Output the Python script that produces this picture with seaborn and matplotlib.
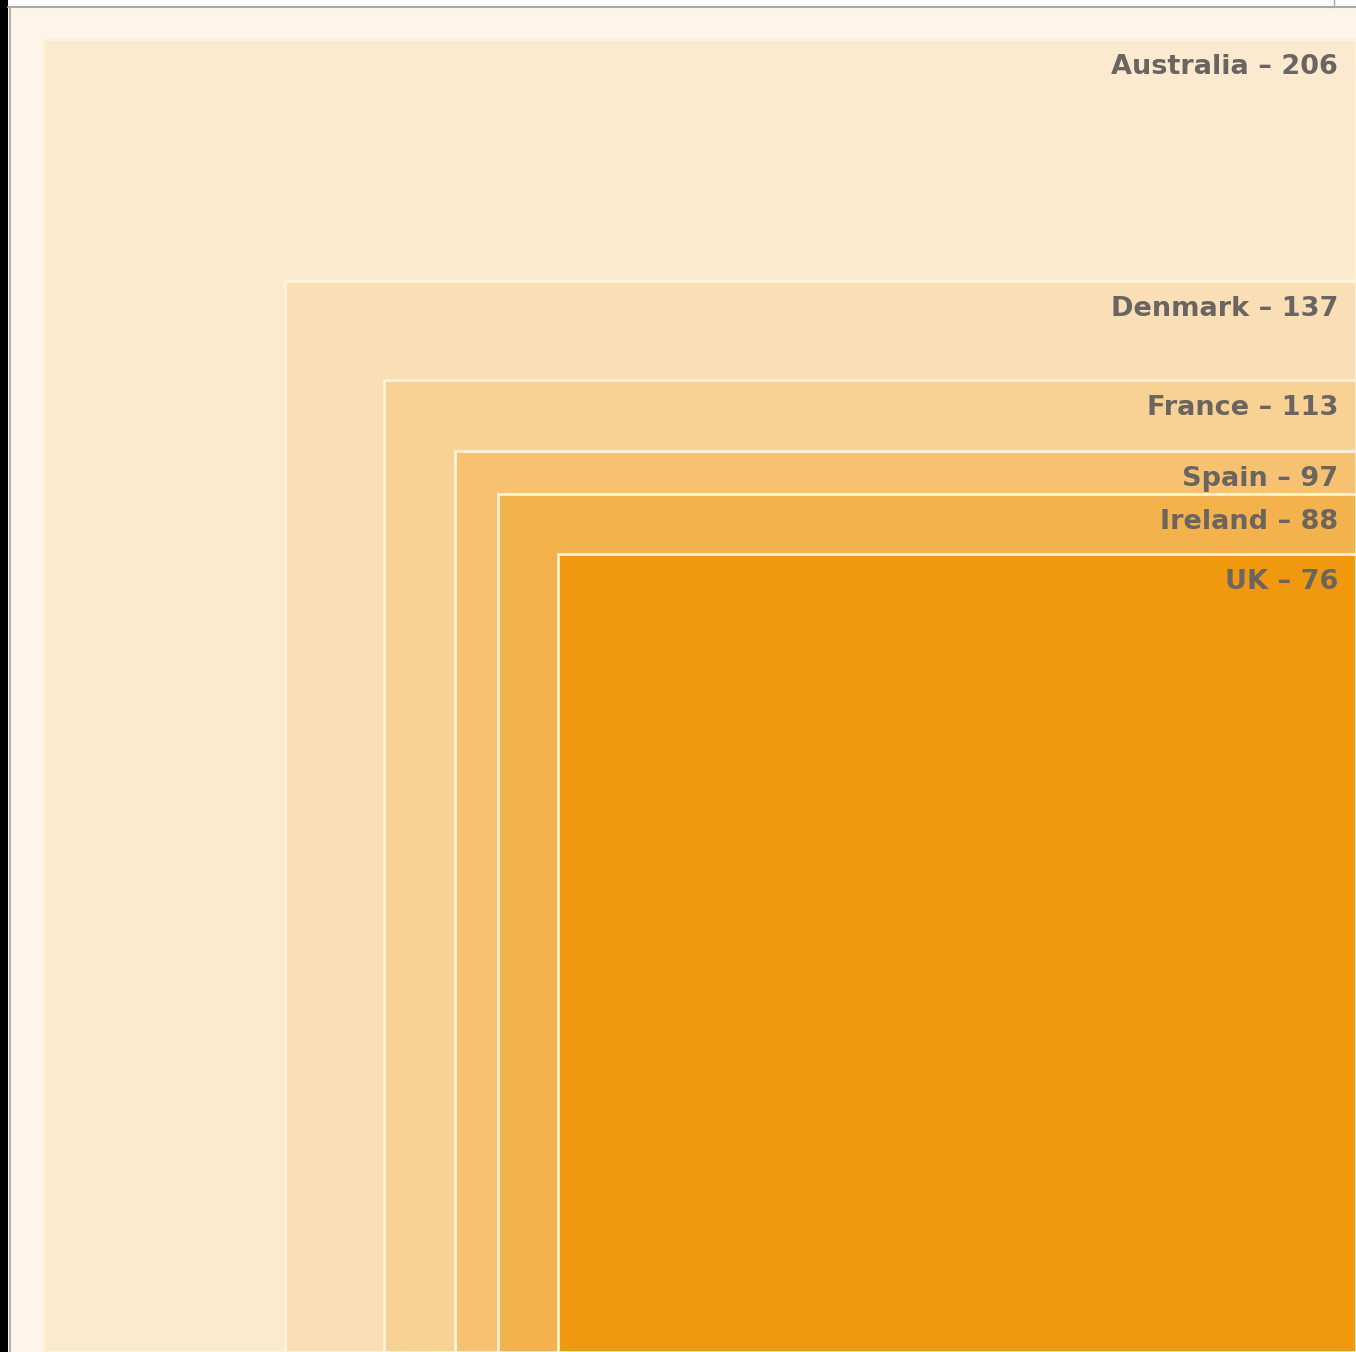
import numpy as np
import matplotlib
matplotlib.use("Agg")
import matplotlib.pyplot as plt
import seaborn as sns
from matplotlib.patches import Rectangle
from matplotlib.lines import Line2D

countries = ["Australia", "Denmark", "France", "Spain", "Ireland", "UK"]
values = [206, 137, 113, 97, 88, 76]
colors = ["#FBEAD0", "#FADFB6", "#F8D194", "#F6C272", "#F3B24C", "#F0980E"]

sns.set_theme(style="white")
plt.rcParams['font.family'] = ['DejaVu Sans']

W, H = 1356, 1352
fig = plt.figure(figsize=(W / 100, H / 100), dpi=100, facecolor="#FDF5E9")
ax = fig.add_axes([0, 0, 1, 1])
ax.set_facecolor("#FDF5E9")

# scale: largest square side = 1313 px
px = np.sqrt(values[0]) / 1313.0
ax.set_xlim(-W * px, 0)
ax.set_ylim(0, H * px)

sides = [np.sqrt(v) for v in values]
lefts = [-s for s in sides]
ax.bar(lefts, sides, width=sides, bottom=0, align="edge", color=colors,
       edgecolor="#FFF3D8", linewidth=2.0, zorder=2)

for c, v, s in zip(countries, values, sides):
    ax.text(-18 * px, s - 15 * px, f"{c} \u2013 {v}", ha="right", va="top",
            fontsize=19.5, color="#6a6560", fontweight="semibold", zorder=3)

ax.set_axis_off()

# frame decorations (window chrome)
fig.add_artist(Rectangle((0, 0), 8 / W, 1, transform=fig.transFigure,
                         facecolor="black", edgecolor="none", zorder=5))
fig.add_artist(Rectangle((8 / W, 1 - 6 / H), 1, 6 / H, transform=fig.transFigure,
                         facecolor="white", edgecolor="none", zorder=5))
fig.add_artist(Line2D([8 / W, 1], [1 - 6.5 / H, 1 - 6.5 / H], transform=fig.transFigure,
                      color="#a8a8a8", linewidth=1.5, zorder=6))
fig.add_artist(Line2D([9.5 / W, 9.5 / W], [0, 1 - 6.5 / H], transform=fig.transFigure,
                      color="#b0b0b0", linewidth=1.5, zorder=6))
fig.add_artist(Line2D([1334 / W, 1334 / W], [1 - 6.5 / H, 1], transform=fig.transFigure,
                      color="#a8a8a8", linewidth=1.0, zorder=6))

fig.savefig("out.png", dpi=100, facecolor=fig.get_facecolor())
